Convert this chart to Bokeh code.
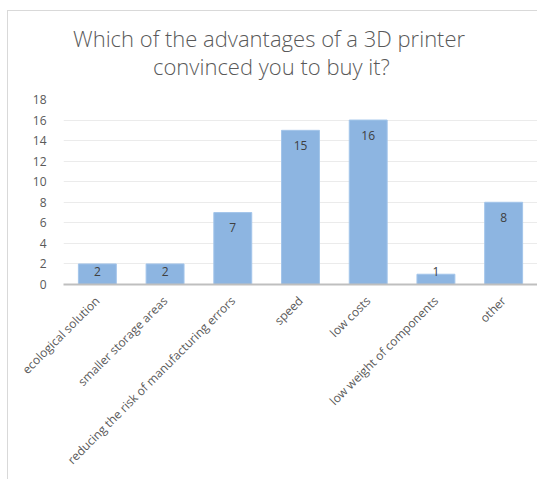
import math
from bokeh.plotting import figure
from bokeh.models import (ColumnDataSource, FactorRange, Range1d, FixedTicker,
                          Title)
from bokeh.core.properties import value
from bokeh.embed import file_html
from bokeh.resources import INLINE

categories = [
    "ecological solution",
    "smaller storage areas",
    "reducing the risk of manufacturing errors",
    "speed",
    "low costs",
    "low weight of components",
    "other",
]
counts = [2, 2, 7, 15, 16, 1, 8]
y_ticks = [0, 2, 4, 6, 8, 10, 12, 14, 16, 18]
title_lines = ["Which of the advantages of a 3D printer", "convinced you to buy it?"]

FONT = "Open Sans"
TITLE_FONT = "Open Sans Light, Open Sans"

# label sits inside the bar end (Excel "inside end"), but not below the floor
label_y = [max(v - 1.46, 1.26) for v in counts]
src = ColumnDataSource(dict(cat=categories, count=counts,
                            label=[str(v) for v in counts], label_y=label_y))

p = figure(x_range=FactorRange(*categories), y_range=Range1d(0, 18),
           width=537, height=479, output_backend="svg", toolbar_location=None,
           title_location=None,
           min_border_left=63, min_border_right=0, min_border_top=99,
           min_border_bottom=195)

# chart title is centred on the whole chart area (left of the plot frame centre);
# multi-line titles are left-justified, so the second line is indented to centre it
nb = "\u00a0"
title_text = title_lines[0] + nb * 11 + "\n" + nb * 14 + title_lines[1]
p.add_layout(Title(text=title_text, align="center",
                   text_font=TITLE_FONT, text_font_size="22px",
                   text_font_style="normal", text_line_height=0.95,
                   text_color="#595959", standoff=37), "above")

p.vbar(x="cat", top="count", width=0.56, source=src,
       fill_color="#8DB5E1", line_color="#A3C5EA", line_width=1)
p.text(x="cat", y="label_y", text="label", source=src,
       text_align="center", text_baseline="middle", text_font=value(FONT),
       text_font_size="12px", text_color="#404040")

p.xaxis.axis_line_color = "#BFBFBF"
p.xaxis.axis_line_width = 2
p.xaxis.major_tick_line_color = None
p.xaxis.minor_tick_line_color = None
p.xaxis.major_label_orientation = math.pi / 4
p.xaxis.major_label_text_font = FONT
p.xaxis.major_label_text_font_size = "12px"
p.xaxis.major_label_text_color = "#595959"
p.xaxis.major_label_standoff = 8

p.yaxis.ticker = FixedTicker(ticks=y_ticks)
p.yaxis.axis_line_color = None
p.yaxis.major_tick_line_color = None
p.yaxis.minor_tick_line_color = None
p.yaxis.major_label_text_font = FONT
p.yaxis.major_label_text_font_size = "12px"
p.yaxis.major_label_text_color = "#595959"
p.yaxis.major_label_standoff = 11

p.xgrid.grid_line_color = None
p.ygrid.grid_line_color = "#EBEBEB"
p.ygrid.grid_line_width = 1
p.outline_line_color = None
p.background_fill_color = "white"
p.border_fill_alpha = 0

# chart-area border (left and top edges) drawn as the element's background
p.styles = {
    "background": (
        "linear-gradient(#D9D9D9, #D9D9D9) 7px 10px / 1px 100% no-repeat, "
        "linear-gradient(#D9D9D9, #D9D9D9) 7px 10px / 100% 1px no-repeat, "
        "white"
    )
}

open("out.html", "w").write(file_html(p, INLINE))
